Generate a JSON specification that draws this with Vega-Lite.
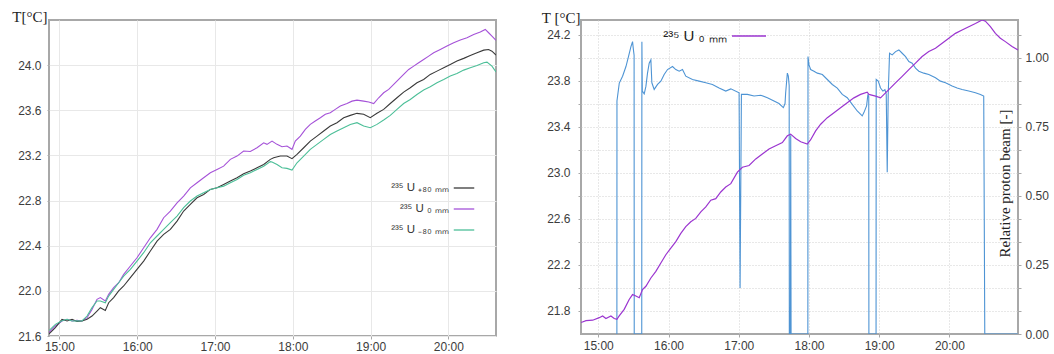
{
  "$schema": "https://vega.github.io/schema/vega-lite/v6.json",
  "padding": {"left": 10, "top": 8, "right": 0, "bottom": 0},
  "spacing": 43,
  "config": {
    "font": "Liberation Sans",
    "view": {"stroke": "#a8a8a8", "strokeWidth": 2},
    "axis": {
      "labelFont": "Liberation Sans", "labelFontSize": 12, "labelColor": "#3c3c3c",
      "domain": false, "tickColor": "#a8a8a8", "tickSize": 3, "labelPadding": 3,
      "titleFont": "Liberation Serif", "titleFontSize": 15, "titleFontWeight": "normal", "titleColor": "#222222",
      "labelOverlap": false, "labelFlush": false
    },
    "legend": {"labelFont": "Liberation Sans", "labelColor": "#333333", "padding": 0}
  },
  "resolve": {"scale": {"color": "independent"}},
  "datasets": {
    "left": [
      {"t":14.866,"s":"²³⁵ U ₀ ₘₘ","T":21.63},{"t":14.883,"s":"²³⁵ U ₀ ₘₘ","T":21.644},{"t":14.948,"s":"²³⁵ U ₀ ₘₘ","T":21.689},{"t":15.033,"s":"²³⁵ U ₀ ₘₘ","T":21.733},{"t":15.098,"s":"²³⁵ U ₀ ₘₘ","T":21.748},{"t":15.162,"s":"²³⁵ U ₀ ₘₘ","T":21.733},{"t":15.226,"s":"²³⁵ U ₀ ₘₘ","T":21.738},{"t":15.29,"s":"²³⁵ U ₀ ₘₘ","T":21.733},{"t":15.355,"s":"²³⁵ U ₀ ₘₘ","T":21.762},{"t":15.419,"s":"²³⁵ U ₀ ₘₘ","T":21.836},{"t":15.483,"s":"²³⁵ U ₀ ₘₘ","T":21.925},{"t":15.526,"s":"²³⁵ U ₀ ₘₘ","T":21.94},{"t":15.59,"s":"²³⁵ U ₀ ₘₘ","T":21.91},{"t":15.633,"s":"²³⁵ U ₀ ₘₘ","T":21.969},{"t":15.697,"s":"²³⁵ U ₀ ₘₘ","T":22.028},{"t":15.762,"s":"²³⁵ U ₀ ₘₘ","T":22.072},{"t":15.826,"s":"²³⁵ U ₀ ₘₘ","T":22.146},{"t":15.912,"s":"²³⁵ U ₀ ₘₘ","T":22.22},{"t":15.997,"s":"²³⁵ U ₀ ₘₘ","T":22.293},{"t":16.083,"s":"²³⁵ U ₀ ₘₘ","T":22.382},{"t":16.169,"s":"²³⁵ U ₀ ₘₘ","T":22.47},{"t":16.255,"s":"²³⁵ U ₀ ₘₘ","T":22.545},{"t":16.34,"s":"²³⁵ U ₀ ₘₘ","T":22.648},{"t":16.426,"s":"²³⁵ U ₀ ₘₘ","T":22.707},{"t":16.512,"s":"²³⁵ U ₀ ₘₘ","T":22.78},{"t":16.597,"s":"²³⁵ U ₀ ₘₘ","T":22.84},{"t":16.683,"s":"²³⁵ U ₀ ₘₘ","T":22.913},{"t":16.769,"s":"²³⁵ U ₀ ₘₘ","T":22.958},{"t":16.854,"s":"²³⁵ U ₀ ₘₘ","T":23.002},{"t":16.94,"s":"²³⁵ U ₀ ₘₘ","T":23.046},{"t":17.026,"s":"²³⁵ U ₀ ₘₘ","T":23.076},{"t":17.111,"s":"²³⁵ U ₀ ₘₘ","T":23.105},{"t":17.197,"s":"²³⁵ U ₀ ₘₘ","T":23.165},{"t":17.283,"s":"²³⁵ U ₀ ₘₘ","T":23.194},{"t":17.368,"s":"²³⁵ U ₀ ₘₘ","T":23.239},{"t":17.454,"s":"²³⁵ U ₀ ₘₘ","T":23.235},{"t":17.54,"s":"²³⁵ U ₀ ₘₘ","T":23.268},{"t":17.626,"s":"²³⁵ U ₀ ₘₘ","T":23.312},{"t":17.668,"s":"²³⁵ U ₀ ₘₘ","T":23.298},{"t":17.733,"s":"²³⁵ U ₀ ₘₘ","T":23.327},{"t":17.797,"s":"²³⁵ U ₀ ₘₘ","T":23.298},{"t":17.861,"s":"²³⁵ U ₀ ₘₘ","T":23.277},{"t":17.925,"s":"²³⁵ U ₀ ₘₘ","T":23.283},{"t":17.99,"s":"²³⁵ U ₀ ₘₘ","T":23.254},{"t":18.032,"s":"²³⁵ U ₀ ₘₘ","T":23.327},{"t":18.097,"s":"²³⁵ U ₀ ₘₘ","T":23.371},{"t":18.161,"s":"²³⁵ U ₀ ₘₘ","T":23.431},{"t":18.225,"s":"²³⁵ U ₀ ₘₘ","T":23.475},{"t":18.289,"s":"²³⁵ U ₀ ₘₘ","T":23.505},{"t":18.354,"s":"²³⁵ U ₀ ₘₘ","T":23.534},{"t":18.418,"s":"²³⁵ U ₀ ₘₘ","T":23.564},{"t":18.482,"s":"²³⁵ U ₀ ₘₘ","T":23.578},{"t":18.546,"s":"²³⁵ U ₀ ₘₘ","T":23.608},{"t":18.611,"s":"²³⁵ U ₀ ₘₘ","T":23.637},{"t":18.697,"s":"²³⁵ U ₀ ₘₘ","T":23.66},{"t":18.761,"s":"²³⁵ U ₀ ₘₘ","T":23.681},{"t":18.825,"s":"²³⁵ U ₀ ₘₘ","T":23.69},{"t":18.911,"s":"²³⁵ U ₀ ₘₘ","T":23.681},{"t":18.976,"s":"²³⁵ U ₀ ₘₘ","T":23.673},{"t":19.04,"s":"²³⁵ U ₀ ₘₘ","T":23.66},{"t":19.104,"s":"²³⁵ U ₀ ₘₘ","T":23.711},{"t":19.168,"s":"²³⁵ U ₀ ₘₘ","T":23.755},{"t":19.233,"s":"²³⁵ U ₀ ₘₘ","T":23.785},{"t":19.297,"s":"²³⁵ U ₀ ₘₘ","T":23.829},{"t":19.361,"s":"²³⁵ U ₀ ₘₘ","T":23.873},{"t":19.425,"s":"²³⁵ U ₀ ₘₘ","T":23.918},{"t":19.49,"s":"²³⁵ U ₀ ₘₘ","T":23.962},{"t":19.554,"s":"²³⁵ U ₀ ₘₘ","T":23.991},{"t":19.618,"s":"²³⁵ U ₀ ₘₘ","T":24.021},{"t":19.682,"s":"²³⁵ U ₀ ₘₘ","T":24.05},{"t":19.747,"s":"²³⁵ U ₀ ₘₘ","T":24.08},{"t":19.811,"s":"²³⁵ U ₀ ₘₘ","T":24.11},{"t":19.896,"s":"²³⁵ U ₀ ₘₘ","T":24.139},{"t":19.982,"s":"²³⁵ U ₀ ₘₘ","T":24.169},{"t":20.068,"s":"²³⁵ U ₀ ₘₘ","T":24.198},{"t":20.153,"s":"²³⁵ U ₀ ₘₘ","T":24.222},{"t":20.239,"s":"²³⁵ U ₀ ₘₘ","T":24.242},{"t":20.325,"s":"²³⁵ U ₀ ₘₘ","T":24.272},{"t":20.41,"s":"²³⁵ U ₀ ₘₘ","T":24.293},{"t":20.474,"s":"²³⁵ U ₀ ₘₘ","T":24.316},{"t":20.517,"s":"²³⁵ U ₀ ₘₘ","T":24.287},{"t":20.56,"s":"²³⁵ U ₀ ₘₘ","T":24.257},{"t":20.612,"s":"²³⁵ U ₀ ₘₘ","T":24.22},
      {"t":14.866,"s":"²³⁵ U ₊₈₀ ₘₘ","T":21.62},{"t":14.883,"s":"²³⁵ U ₊₈₀ ₘₘ","T":21.63},{"t":14.948,"s":"²³⁵ U ₊₈₀ ₘₘ","T":21.675},{"t":15.033,"s":"²³⁵ U ₊₈₀ ₘₘ","T":21.748},{"t":15.098,"s":"²³⁵ U ₊₈₀ ₘₘ","T":21.733},{"t":15.162,"s":"²³⁵ U ₊₈₀ ₘₘ","T":21.748},{"t":15.226,"s":"²³⁵ U ₊₈₀ ₘₘ","T":21.728},{"t":15.29,"s":"²³⁵ U ₊₈₀ ₘₘ","T":21.733},{"t":15.355,"s":"²³⁵ U ₊₈₀ ₘₘ","T":21.748},{"t":15.419,"s":"²³⁵ U ₊₈₀ ₘₘ","T":21.777},{"t":15.483,"s":"²³⁵ U ₊₈₀ ₘₘ","T":21.821},{"t":15.526,"s":"²³⁵ U ₊₈₀ ₘₘ","T":21.851},{"t":15.59,"s":"²³⁵ U ₊₈₀ ₘₘ","T":21.827},{"t":15.633,"s":"²³⁵ U ₊₈₀ ₘₘ","T":21.895},{"t":15.697,"s":"²³⁵ U ₊₈₀ ₘₘ","T":21.94},{"t":15.762,"s":"²³⁵ U ₊₈₀ ₘₘ","T":21.999},{"t":15.826,"s":"²³⁵ U ₊₈₀ ₘₘ","T":22.043},{"t":15.912,"s":"²³⁵ U ₊₈₀ ₘₘ","T":22.117},{"t":15.997,"s":"²³⁵ U ₊₈₀ ₘₘ","T":22.191},{"t":16.083,"s":"²³⁵ U ₊₈₀ ₘₘ","T":22.264},{"t":16.169,"s":"²³⁵ U ₊₈₀ ₘₘ","T":22.353},{"t":16.255,"s":"²³⁵ U ₊₈₀ ₘₘ","T":22.441},{"t":16.34,"s":"²³⁵ U ₊₈₀ ₘₘ","T":22.5},{"t":16.426,"s":"²³⁵ U ₊₈₀ ₘₘ","T":22.545},{"t":16.512,"s":"²³⁵ U ₊₈₀ ₘₘ","T":22.618},{"t":16.597,"s":"²³⁵ U ₊₈₀ ₘₘ","T":22.707},{"t":16.683,"s":"²³⁵ U ₊₈₀ ₘₘ","T":22.766},{"t":16.769,"s":"²³⁵ U ₊₈₀ ₘₘ","T":22.825},{"t":16.854,"s":"²³⁵ U ₊₈₀ ₘₘ","T":22.854},{"t":16.94,"s":"²³⁵ U ₊₈₀ ₘₘ","T":22.899},{"t":17.026,"s":"²³⁵ U ₊₈₀ ₘₘ","T":22.913},{"t":17.111,"s":"²³⁵ U ₊₈₀ ₘₘ","T":22.943},{"t":17.197,"s":"²³⁵ U ₊₈₀ ₘₘ","T":22.973},{"t":17.283,"s":"²³⁵ U ₊₈₀ ₘₘ","T":23.002},{"t":17.368,"s":"²³⁵ U ₊₈₀ ₘₘ","T":23.037},{"t":17.454,"s":"²³⁵ U ₊₈₀ ₘₘ","T":23.061},{"t":17.54,"s":"²³⁵ U ₊₈₀ ₘₘ","T":23.09},{"t":17.626,"s":"²³⁵ U ₊₈₀ ₘₘ","T":23.12},{"t":17.711,"s":"²³⁵ U ₊₈₀ ₘₘ","T":23.165},{"t":17.754,"s":"²³⁵ U ₊₈₀ ₘₘ","T":23.18},{"t":17.84,"s":"²³⁵ U ₊₈₀ ₘₘ","T":23.195},{"t":17.925,"s":"²³⁵ U ₊₈₀ ₘₘ","T":23.195},{"t":17.99,"s":"²³⁵ U ₊₈₀ ₘₘ","T":23.171},{"t":18.054,"s":"²³⁵ U ₊₈₀ ₘₘ","T":23.21},{"t":18.14,"s":"²³⁵ U ₊₈₀ ₘₘ","T":23.268},{"t":18.225,"s":"²³⁵ U ₊₈₀ ₘₘ","T":23.327},{"t":18.311,"s":"²³⁵ U ₊₈₀ ₘₘ","T":23.371},{"t":18.397,"s":"²³⁵ U ₊₈₀ ₘₘ","T":23.416},{"t":18.482,"s":"²³⁵ U ₊₈₀ ₘₘ","T":23.46},{"t":18.568,"s":"²³⁵ U ₊₈₀ ₘₘ","T":23.49},{"t":18.654,"s":"²³⁵ U ₊₈₀ ₘₘ","T":23.534},{"t":18.739,"s":"²³⁵ U ₊₈₀ ₘₘ","T":23.555},{"t":18.825,"s":"²³⁵ U ₊₈₀ ₘₘ","T":23.573},{"t":18.911,"s":"²³⁵ U ₊₈₀ ₘₘ","T":23.565},{"t":18.996,"s":"²³⁵ U ₊₈₀ ₘₘ","T":23.534},{"t":19.082,"s":"²³⁵ U ₊₈₀ ₘₘ","T":23.573},{"t":19.168,"s":"²³⁵ U ₊₈₀ ₘₘ","T":23.608},{"t":19.253,"s":"²³⁵ U ₊₈₀ ₘₘ","T":23.66},{"t":19.339,"s":"²³⁵ U ₊₈₀ ₘₘ","T":23.711},{"t":19.425,"s":"²³⁵ U ₊₈₀ ₘₘ","T":23.761},{"t":19.51,"s":"²³⁵ U ₊₈₀ ₘₘ","T":23.8},{"t":19.596,"s":"²³⁵ U ₊₈₀ ₘₘ","T":23.844},{"t":19.682,"s":"²³⁵ U ₊₈₀ ₘₘ","T":23.873},{"t":19.767,"s":"²³⁵ U ₊₈₀ ₘₘ","T":23.918},{"t":19.853,"s":"²³⁵ U ₊₈₀ ₘₘ","T":23.947},{"t":19.94,"s":"²³⁵ U ₊₈₀ ₘₘ","T":23.977},{"t":20.024,"s":"²³⁵ U ₊₈₀ ₘₘ","T":24.006},{"t":20.11,"s":"²³⁵ U ₊₈₀ ₘₘ","T":24.036},{"t":20.197,"s":"²³⁵ U ₊₈₀ ₘₘ","T":24.06},{"t":20.281,"s":"²³⁵ U ₊₈₀ ₘₘ","T":24.086},{"t":20.368,"s":"²³⁵ U ₊₈₀ ₘₘ","T":24.11},{"t":20.454,"s":"²³⁵ U ₊₈₀ ₘₘ","T":24.133},{"t":20.517,"s":"²³⁵ U ₊₈₀ ₘₘ","T":24.139},{"t":20.56,"s":"²³⁵ U ₊₈₀ ₘₘ","T":24.124},{"t":20.612,"s":"²³⁵ U ₊₈₀ ₘₘ","T":24.09},
      {"t":14.866,"s":"²³⁵ U ₋₈₀ ₘₘ","T":21.65},{"t":14.883,"s":"²³⁵ U ₋₈₀ ₘₘ","T":21.659},{"t":14.948,"s":"²³⁵ U ₋₈₀ ₘₘ","T":21.703},{"t":15.033,"s":"²³⁵ U ₋₈₀ ₘₘ","T":21.735},{"t":15.098,"s":"²³⁵ U ₋₈₀ ₘₘ","T":21.748},{"t":15.162,"s":"²³⁵ U ₋₈₀ ₘₘ","T":21.733},{"t":15.226,"s":"²³⁵ U ₋₈₀ ₘₘ","T":21.735},{"t":15.29,"s":"²³⁵ U ₋₈₀ ₘₘ","T":21.733},{"t":15.355,"s":"²³⁵ U ₋₈₀ ₘₘ","T":21.777},{"t":15.419,"s":"²³⁵ U ₋₈₀ ₘₘ","T":21.851},{"t":15.483,"s":"²³⁵ U ₋₈₀ ₘₘ","T":21.91},{"t":15.526,"s":"²³⁵ U ₋₈₀ ₘₘ","T":21.91},{"t":15.59,"s":"²³⁵ U ₋₈₀ ₘₘ","T":21.895},{"t":15.633,"s":"²³⁵ U ₋₈₀ ₘₘ","T":21.954},{"t":15.697,"s":"²³⁵ U ₋₈₀ ₘₘ","T":22.013},{"t":15.762,"s":"²³⁵ U ₋₈₀ ₘₘ","T":22.072},{"t":15.826,"s":"²³⁵ U ₋₈₀ ₘₘ","T":22.131},{"t":15.912,"s":"²³⁵ U ₋₈₀ ₘₘ","T":22.19},{"t":15.997,"s":"²³⁵ U ₋₈₀ ₘₘ","T":22.264},{"t":16.083,"s":"²³⁵ U ₋₈₀ ₘₘ","T":22.338},{"t":16.169,"s":"²³⁵ U ₋₈₀ ₘₘ","T":22.426},{"t":16.255,"s":"²³⁵ U ₋₈₀ ₘₘ","T":22.486},{"t":16.34,"s":"²³⁵ U ₋₈₀ ₘₘ","T":22.545},{"t":16.426,"s":"²³⁵ U ₋₈₀ ₘₘ","T":22.604},{"t":16.512,"s":"²³⁵ U ₋₈₀ ₘₘ","T":22.663},{"t":16.597,"s":"²³⁵ U ₋₈₀ ₘₘ","T":22.737},{"t":16.683,"s":"²³⁵ U ₋₈₀ ₘₘ","T":22.796},{"t":16.769,"s":"²³⁵ U ₋₈₀ ₘₘ","T":22.84},{"t":16.854,"s":"²³⁵ U ₋₈₀ ₘₘ","T":22.869},{"t":16.94,"s":"²³⁵ U ₋₈₀ ₘₘ","T":22.899},{"t":17.026,"s":"²³⁵ U ₋₈₀ ₘₘ","T":22.913},{"t":17.111,"s":"²³⁵ U ₋₈₀ ₘₘ","T":22.928},{"t":17.197,"s":"²³⁵ U ₋₈₀ ₘₘ","T":22.958},{"t":17.283,"s":"²³⁵ U ₋₈₀ ₘₘ","T":22.987},{"t":17.368,"s":"²³⁵ U ₋₈₀ ₘₘ","T":23.025},{"t":17.454,"s":"²³⁵ U ₋₈₀ ₘₘ","T":23.046},{"t":17.54,"s":"²³⁵ U ₋₈₀ ₘₘ","T":23.076},{"t":17.626,"s":"²³⁵ U ₋₈₀ ₘₘ","T":23.105},{"t":17.711,"s":"²³⁵ U ₋₈₀ ₘₘ","T":23.145},{"t":17.733,"s":"²³⁵ U ₋₈₀ ₘₘ","T":23.142},{"t":17.797,"s":"²³⁵ U ₋₈₀ ₘₘ","T":23.12},{"t":17.861,"s":"²³⁵ U ₋₈₀ ₘₘ","T":23.091},{"t":17.925,"s":"²³⁵ U ₋₈₀ ₘₘ","T":23.085},{"t":17.99,"s":"²³⁵ U ₋₈₀ ₘₘ","T":23.07},{"t":18.054,"s":"²³⁵ U ₋₈₀ ₘₘ","T":23.135},{"t":18.14,"s":"²³⁵ U ₋₈₀ ₘₘ","T":23.194},{"t":18.225,"s":"²³⁵ U ₋₈₀ ₘₘ","T":23.254},{"t":18.311,"s":"²³⁵ U ₋₈₀ ₘₘ","T":23.298},{"t":18.397,"s":"²³⁵ U ₋₈₀ ₘₘ","T":23.342},{"t":18.482,"s":"²³⁵ U ₋₈₀ ₘₘ","T":23.386},{"t":18.568,"s":"²³⁵ U ₋₈₀ ₘₘ","T":23.416},{"t":18.654,"s":"²³⁵ U ₋₈₀ ₘₘ","T":23.445},{"t":18.739,"s":"²³⁵ U ₋₈₀ ₘₘ","T":23.475},{"t":18.825,"s":"²³⁵ U ₋₈₀ ₘₘ","T":23.49},{"t":18.911,"s":"²³⁵ U ₋₈₀ ₘₘ","T":23.46},{"t":18.996,"s":"²³⁵ U ₋₈₀ ₘₘ","T":23.445},{"t":19.082,"s":"²³⁵ U ₋₈₀ ₘₘ","T":23.475},{"t":19.168,"s":"²³⁵ U ₋₈₀ ₘₘ","T":23.514},{"t":19.253,"s":"²³⁵ U ₋₈₀ ₘₘ","T":23.555},{"t":19.339,"s":"²³⁵ U ₋₈₀ ₘₘ","T":23.608},{"t":19.425,"s":"²³⁵ U ₋₈₀ ₘₘ","T":23.66},{"t":19.51,"s":"²³⁵ U ₋₈₀ ₘₘ","T":23.696},{"t":19.596,"s":"²³⁵ U ₋₈₀ ₘₘ","T":23.74},{"t":19.682,"s":"²³⁵ U ₋₈₀ ₘₘ","T":23.779},{"t":19.767,"s":"²³⁵ U ₋₈₀ ₘₘ","T":23.808},{"t":19.853,"s":"²³⁵ U ₋₈₀ ₘₘ","T":23.844},{"t":19.94,"s":"²³⁵ U ₋₈₀ ₘₘ","T":23.873},{"t":20.024,"s":"²³⁵ U ₋₈₀ ₘₘ","T":23.903},{"t":20.11,"s":"²³⁵ U ₋₈₀ ₘₘ","T":23.926},{"t":20.197,"s":"²³⁵ U ₋₈₀ ₘₘ","T":23.956},{"t":20.281,"s":"²³⁵ U ₋₈₀ ₘₘ","T":23.977},{"t":20.368,"s":"²³⁵ U ₋₈₀ ₘₘ","T":23.997},{"t":20.454,"s":"²³⁵ U ₋₈₀ ₘₘ","T":24.021},{"t":20.496,"s":"²³⁵ U ₋₈₀ ₘₘ","T":24.027},{"t":20.56,"s":"²³⁵ U ₋₈₀ ₘₘ","T":23.991},{"t":20.612,"s":"²³⁵ U ₋₈₀ ₘₘ","T":23.94}
    ],
    "temp": [
      {"t":14.755,"s":"²³⁵ U ₀ ₘₘ","T":21.7},{"t":14.825,"s":"²³⁵ U ₀ ₘₘ","T":21.716},{"t":14.92,"s":"²³⁵ U ₀ ₘₘ","T":21.72},{"t":15.014,"s":"²³⁵ U ₀ ₘₘ","T":21.742},{"t":15.062,"s":"²³⁵ U ₀ ₘₘ","T":21.757},{"t":15.109,"s":"²³⁵ U ₀ ₘₘ","T":21.735},{"t":15.18,"s":"²³⁵ U ₀ ₘₘ","T":21.757},{"t":15.227,"s":"²³⁵ U ₀ ₘₘ","T":21.735},{"t":15.265,"s":"²³⁵ U ₀ ₘₘ","T":21.728},{"t":15.298,"s":"²³⁵ U ₀ ₘₘ","T":21.757},{"t":15.369,"s":"²³⁵ U ₀ ₘₘ","T":21.814},{"t":15.44,"s":"²³⁵ U ₀ ₘₘ","T":21.9},{"t":15.488,"s":"²³⁵ U ₀ ₘₘ","T":21.943},{"t":15.535,"s":"²³⁵ U ₀ ₘₘ","T":21.93},{"t":15.583,"s":"²³⁵ U ₀ ₘₘ","T":21.915},{"t":15.63,"s":"²³⁵ U ₀ ₘₘ","T":21.986},{"t":15.678,"s":"²³⁵ U ₀ ₘₘ","T":22.015},{"t":15.749,"s":"²³⁵ U ₀ ₘₘ","T":22.087},{"t":15.82,"s":"²³⁵ U ₀ ₘₘ","T":22.144},{"t":15.891,"s":"²³⁵ U ₀ ₘₘ","T":22.217},{"t":15.962,"s":"²³⁵ U ₀ ₘₘ","T":22.289},{"t":16.033,"s":"²³⁵ U ₀ ₘₘ","T":22.346},{"t":16.104,"s":"²³⁵ U ₀ ₘₘ","T":22.403},{"t":16.175,"s":"²³⁵ U ₀ ₘₘ","T":22.475},{"t":16.246,"s":"²³⁵ U ₀ ₘₘ","T":22.533},{"t":16.317,"s":"²³⁵ U ₀ ₘₘ","T":22.576},{"t":16.388,"s":"²³⁵ U ₀ ₘₘ","T":22.605},{"t":16.46,"s":"²³⁵ U ₀ ₘₘ","T":22.662},{"t":16.531,"s":"²³⁵ U ₀ ₘₘ","T":22.705},{"t":16.602,"s":"²³⁵ U ₀ ₘₘ","T":22.763},{"t":16.673,"s":"²³⁵ U ₀ ₘₘ","T":22.777},{"t":16.744,"s":"²³⁵ U ₀ ₘₘ","T":22.835},{"t":16.815,"s":"²³⁵ U ₀ ₘₘ","T":22.878},{"t":16.887,"s":"²³⁵ U ₀ ₘₘ","T":22.907},{"t":16.981,"s":"²³⁵ U ₀ ₘₘ","T":23.007},{"t":17.052,"s":"²³⁵ U ₀ ₘₘ","T":23.05},{"t":17.147,"s":"²³⁵ U ₀ ₘₘ","T":23.065},{"t":17.242,"s":"²³⁵ U ₀ ₘₘ","T":23.122},{"t":17.336,"s":"²³⁵ U ₀ ₘₘ","T":23.165},{"t":17.431,"s":"²³⁵ U ₀ ₘₘ","T":23.208},{"t":17.526,"s":"²³⁵ U ₀ ₘₘ","T":23.237},{"t":17.621,"s":"²³⁵ U ₀ ₘₘ","T":23.265},{"t":17.692,"s":"²³⁵ U ₀ ₘₘ","T":23.323},{"t":17.739,"s":"²³⁵ U ₀ ₘₘ","T":23.338},{"t":17.81,"s":"²³⁵ U ₀ ₘₘ","T":23.3},{"t":17.882,"s":"²³⁵ U ₀ ₘₘ","T":23.271},{"t":17.976,"s":"²³⁵ U ₀ ₘₘ","T":23.251},{"t":18.024,"s":"²³⁵ U ₀ ₘₘ","T":23.289},{"t":18.095,"s":"²³⁵ U ₀ ₘₘ","T":23.366},{"t":18.166,"s":"²³⁵ U ₀ ₘₘ","T":23.424},{"t":18.261,"s":"²³⁵ U ₀ ₘₘ","T":23.481},{"t":18.356,"s":"²³⁵ U ₀ ₘₘ","T":23.524},{"t":18.45,"s":"²³⁵ U ₀ ₘₘ","T":23.567},{"t":18.545,"s":"²³⁵ U ₀ ₘₘ","T":23.61},{"t":18.64,"s":"²³⁵ U ₀ ₘₘ","T":23.653},{"t":18.735,"s":"²³⁵ U ₀ ₘₘ","T":23.683},{"t":18.829,"s":"²³⁵ U ₀ ₘₘ","T":23.702},{"t":18.853,"s":"²³⁵ U ₀ ₘₘ","T":23.683},{"t":18.948,"s":"²³⁵ U ₀ ₘₘ","T":23.668},{"t":19.019,"s":"²³⁵ U ₀ ₘₘ","T":23.653},{"t":19.09,"s":"²³⁵ U ₀ ₘₘ","T":23.697},{"t":19.161,"s":"²³⁵ U ₀ ₘₘ","T":23.74},{"t":19.232,"s":"²³⁵ U ₀ ₘₘ","T":23.783},{"t":19.327,"s":"²³⁵ U ₀ ₘₘ","T":23.84},{"t":19.422,"s":"²³⁵ U ₀ ₘₘ","T":23.898},{"t":19.517,"s":"²³⁵ U ₀ ₘₘ","T":23.955},{"t":19.611,"s":"²³⁵ U ₀ ₘₘ","T":24.013},{"t":19.706,"s":"²³⁵ U ₀ ₘₘ","T":24.056},{"t":19.801,"s":"²³⁵ U ₀ ₘₘ","T":24.085},{"t":19.896,"s":"²³⁵ U ₀ ₘₘ","T":24.128},{"t":19.991,"s":"²³⁵ U ₀ ₘₘ","T":24.171},{"t":20.085,"s":"²³⁵ U ₀ ₘₘ","T":24.214},{"t":20.18,"s":"²³⁵ U ₀ ₘₘ","T":24.243},{"t":20.275,"s":"²³⁵ U ₀ ₘₘ","T":24.272},{"t":20.37,"s":"²³⁵ U ₀ ₘₘ","T":24.3},{"t":20.465,"s":"²³⁵ U ₀ ₘₘ","T":24.33},{"t":20.512,"s":"²³⁵ U ₀ ₘₘ","T":24.32},{"t":20.583,"s":"²³⁵ U ₀ ₘₘ","T":24.272},{"t":20.654,"s":"²³⁵ U ₀ ₘₘ","T":24.214},{"t":20.725,"s":"²³⁵ U ₀ ₘₘ","T":24.171},{"t":20.796,"s":"²³⁵ U ₀ ₘₘ","T":24.142},{"t":20.891,"s":"²³⁵ U ₀ ₘₘ","T":24.099},{"t":20.976,"s":"²³⁵ U ₀ ₘₘ","T":24.07}
    ],
    "beam": [
      {"t":15.265,"R":0},{"t":15.266,"R":0.844},{"t":15.299,"R":0.909},{"t":15.346,"R":0.934},{"t":15.394,"R":0.969},{"t":15.43,"R":1.005},{"t":15.465,"R":1.041},{"t":15.488,"R":1.059},{"t":15.5,"R":1.03},{"t":15.51,"R":1.01},{"t":15.512,"R":0},{"t":15.619,"R":0},{"t":15.621,"R":1.059},{"t":15.627,"R":0.88},{"t":15.654,"R":0.87},{"t":15.678,"R":0.897},{"t":15.701,"R":0.945},{"t":15.725,"R":0.981},{"t":15.749,"R":0.993},{"t":15.763,"R":0.91},{"t":15.796,"R":0.886},{"t":15.844,"R":0.904},{"t":15.891,"R":0.916},{"t":15.938,"R":0.94},{"t":15.986,"R":0.958},{"t":16.057,"R":0.969},{"t":16.104,"R":0.958},{"t":16.152,"R":0.952},{"t":16.199,"R":0.958},{"t":16.246,"R":0.934},{"t":16.341,"R":0.922},{"t":16.436,"R":0.916},{"t":16.531,"R":0.91},{"t":16.625,"R":0.904},{"t":16.72,"R":0.891},{"t":16.815,"R":0.88},{"t":16.887,"R":0.888},{"t":17.005,"R":0.874},{"t":17.019,"R":0.167},{"t":17.038,"R":0.868},{"t":17.123,"R":0.868},{"t":17.218,"R":0.862},{"t":17.313,"R":0.865},{"t":17.408,"R":0.856},{"t":17.502,"R":0.844},{"t":17.573,"R":0.835},{"t":17.635,"R":0.82},{"t":17.659,"R":0.835},{"t":17.668,"R":0.874},{"t":17.692,"R":0.945},{"t":17.706,"R":0.934},{"t":17.718,"R":0.9},{"t":17.72,"R":0},{"t":17.735,"R":0},{"t":17.74,"R":0.72},{"t":17.745,"R":0},{"t":17.984,"R":0},{"t":17.986,"R":1.005},{"t":18.0,"R":0.975},{"t":18.024,"R":0.958},{"t":18.071,"R":0.952},{"t":18.119,"R":0.945},{"t":18.19,"R":0.94},{"t":18.261,"R":0.922},{"t":18.332,"R":0.904},{"t":18.403,"R":0.891},{"t":18.474,"R":0.868},{"t":18.545,"R":0.856},{"t":18.616,"R":0.832},{"t":18.687,"R":0.808},{"t":18.758,"R":0.79},{"t":18.782,"R":0.802},{"t":18.82,"R":0.826},{"t":18.839,"R":0.868},{"t":18.851,"R":0.86},{"t":18.853,"R":0},{"t":18.955,"R":0},{"t":18.957,"R":0.922},{"t":18.986,"R":0.916},{"t":19.019,"R":0.891},{"t":19.052,"R":0.88},{"t":19.081,"R":0.885},{"t":19.1,"R":0.868},{"t":19.114,"R":0.586},{"t":19.128,"R":0.868},{"t":19.147,"R":1.017},{"t":19.185,"R":1.011},{"t":19.233,"R":1.023},{"t":19.28,"R":1.029},{"t":19.327,"R":1.017},{"t":19.375,"R":1.005},{"t":19.422,"R":0.987},{"t":19.469,"R":0.981},{"t":19.517,"R":0.963},{"t":19.564,"R":0.952},{"t":19.635,"R":0.945},{"t":19.706,"R":0.94},{"t":19.801,"R":0.928},{"t":19.872,"R":0.916},{"t":19.944,"R":0.91},{"t":20.038,"R":0.898},{"t":20.109,"R":0.891},{"t":20.18,"R":0.886},{"t":20.275,"R":0.88},{"t":20.37,"R":0.874},{"t":20.441,"R":0.868},{"t":20.488,"R":0.862},{"t":20.503,"R":0},{"t":20.976,"R":0}
    ]
  },
  "hconcat": [
    {
      "width": 447,
      "height": 316,
      "data": {"name": "left"},
      "mark": {"type": "line", "strokeWidth": 1.1, "clip": true},
      "encoding": {
        "x": {"field": "t", "type": "quantitative",
          "scale": {"domain": [14.866, 20.612], "nice": false, "zero": false},
          "axis": {"values": [15, 16, 17, 18, 19, 20], "labelExpr": "datum.value + ':00'", "title": null, "grid": true, "gridColor": "#e8e8e8", "labelPadding": 2}},
        "y": {"field": "T", "type": "quantitative",
          "scale": {"domain": [21.6, 24.4], "nice": false, "zero": false},
          "axis": {"values": [21.6, 22.0, 22.4, 22.8, 23.2, 23.6, 24.0], "format": ".1f", "grid": true, "gridColor": "#e8e8e8", "tickSize": 2, "labelPadding": 6,
            "title": "T[°C]", "titleAngle": 0, "titleAlign": "right", "titleBaseline": "alphabetic", "titleX": -2, "titleY": 1.5}},
        "color": {"field": "s", "type": "nominal",
          "scale": {"domain": ["²³⁵ U ₊₈₀ ₘₘ", "²³⁵ U ₀ ₘₘ", "²³⁵ U ₋₈₀ ₘₘ"], "range": ["#3a3a3a", "#a552d8", "#4cbf98"]},
          "legend": {"orient": "none", "legendX": 404, "legendY": 157, "title": null, "symbolType": "stroke", "symbolSize": 420, "symbolStrokeWidth": 1.3, "labelAlign": "right", "labelOffset": -26, "labelFontSize": 11.5, "rowPadding": 4}}
      }
    },
    {
      "width": 437,
      "height": 314,
      "layer": [
        {
          "data": {"name": "beam"},
          "mark": {"type": "line", "color": "#4e94d4", "strokeWidth": 1.1, "clip": true},
          "encoding": {
            "x": {"field": "t", "type": "quantitative",
              "scale": {"domain": [14.754, 20.976], "nice": false, "zero": false},
              "axis": {"values": [15, 16, 17, 18, 19, 20], "labelExpr": "datum.value + ':00'", "title": null, "grid": true, "gridColor": "#d0d0d0", "gridDash": [1, 2]}},
            "y": {"field": "R", "type": "quantitative",
              "scale": {"domain": [0, 1.1375], "nice": false, "zero": false},
              "axis": {"orient": "right", "grid": false, "labelPadding": 4,
                "values": [0, 0.083333, 0.166667, 0.25, 0.333333, 0.416667, 0.5, 0.583333, 0.666667, 0.75, 0.833333, 0.916667, 1.0, 1.083333],
                "labelExpr": "abs(datum.value * 4 - round(datum.value * 4)) < 0.001 ? format(datum.value, '.2f') : ''",
                "title": "Relative proton beam [-]", "titleAngle": 270, "titleAlign": "center", "titleBaseline": "alphabetic", "titleX": -9, "titleY": 163}}
          }
        },
        {
          "data": {"name": "temp"},
          "mark": {"type": "line", "strokeWidth": 1.2, "clip": true},
          "encoding": {
            "x": {"field": "t", "type": "quantitative",
              "scale": {"domain": [14.754, 20.976], "nice": false, "zero": false},
              "axis": {"values": [15, 16, 17, 18, 19, 20], "labelExpr": "datum.value + ':00'", "title": null, "grid": true, "gridColor": "#d0d0d0", "gridDash": [1, 2]}},
            "y": {"field": "T", "type": "quantitative",
              "scale": {"domain": [21.6, 24.33], "nice": false, "zero": false},
              "axis": {"orient": "left", "grid": true, "gridColor": "#d0d0d0", "gridDash": [1, 2], "labelPadding": 8,
                "values": [21.8, 22.0, 22.2, 22.4, 22.6, 22.8, 23.0, 23.2, 23.4, 23.6, 23.8, 24.0, 24.2],
                "labelExpr": "abs((datum.value - 21.8) / 0.4 - round((datum.value - 21.8) / 0.4)) < 0.01 ? format(datum.value, '.1f') : ''",
                "title": "T [°C]", "titleAngle": 0, "titleAlign": "right", "titleBaseline": "alphabetic", "titleX": -1, "titleY": 2}},
            "color": {"field": "s", "type": "nominal",
              "scale": {"domain": ["²³⁵ U ₀ ₘₘ"], "range": ["#9b35d0"]},
              "legend": {"orient": "none", "legendX": 150, "legendY": -2, "title": null, "symbolType": "stroke", "symbolSize": 1156, "symbolStrokeWidth": 1.3, "labelAlign": "right", "labelOffset": -40, "labelFontSize": 15, "labelColor": "#222222"}}
          }
        }
      ],
      "resolve": {"scale": {"y": "independent"}}
    }
  ]
}
